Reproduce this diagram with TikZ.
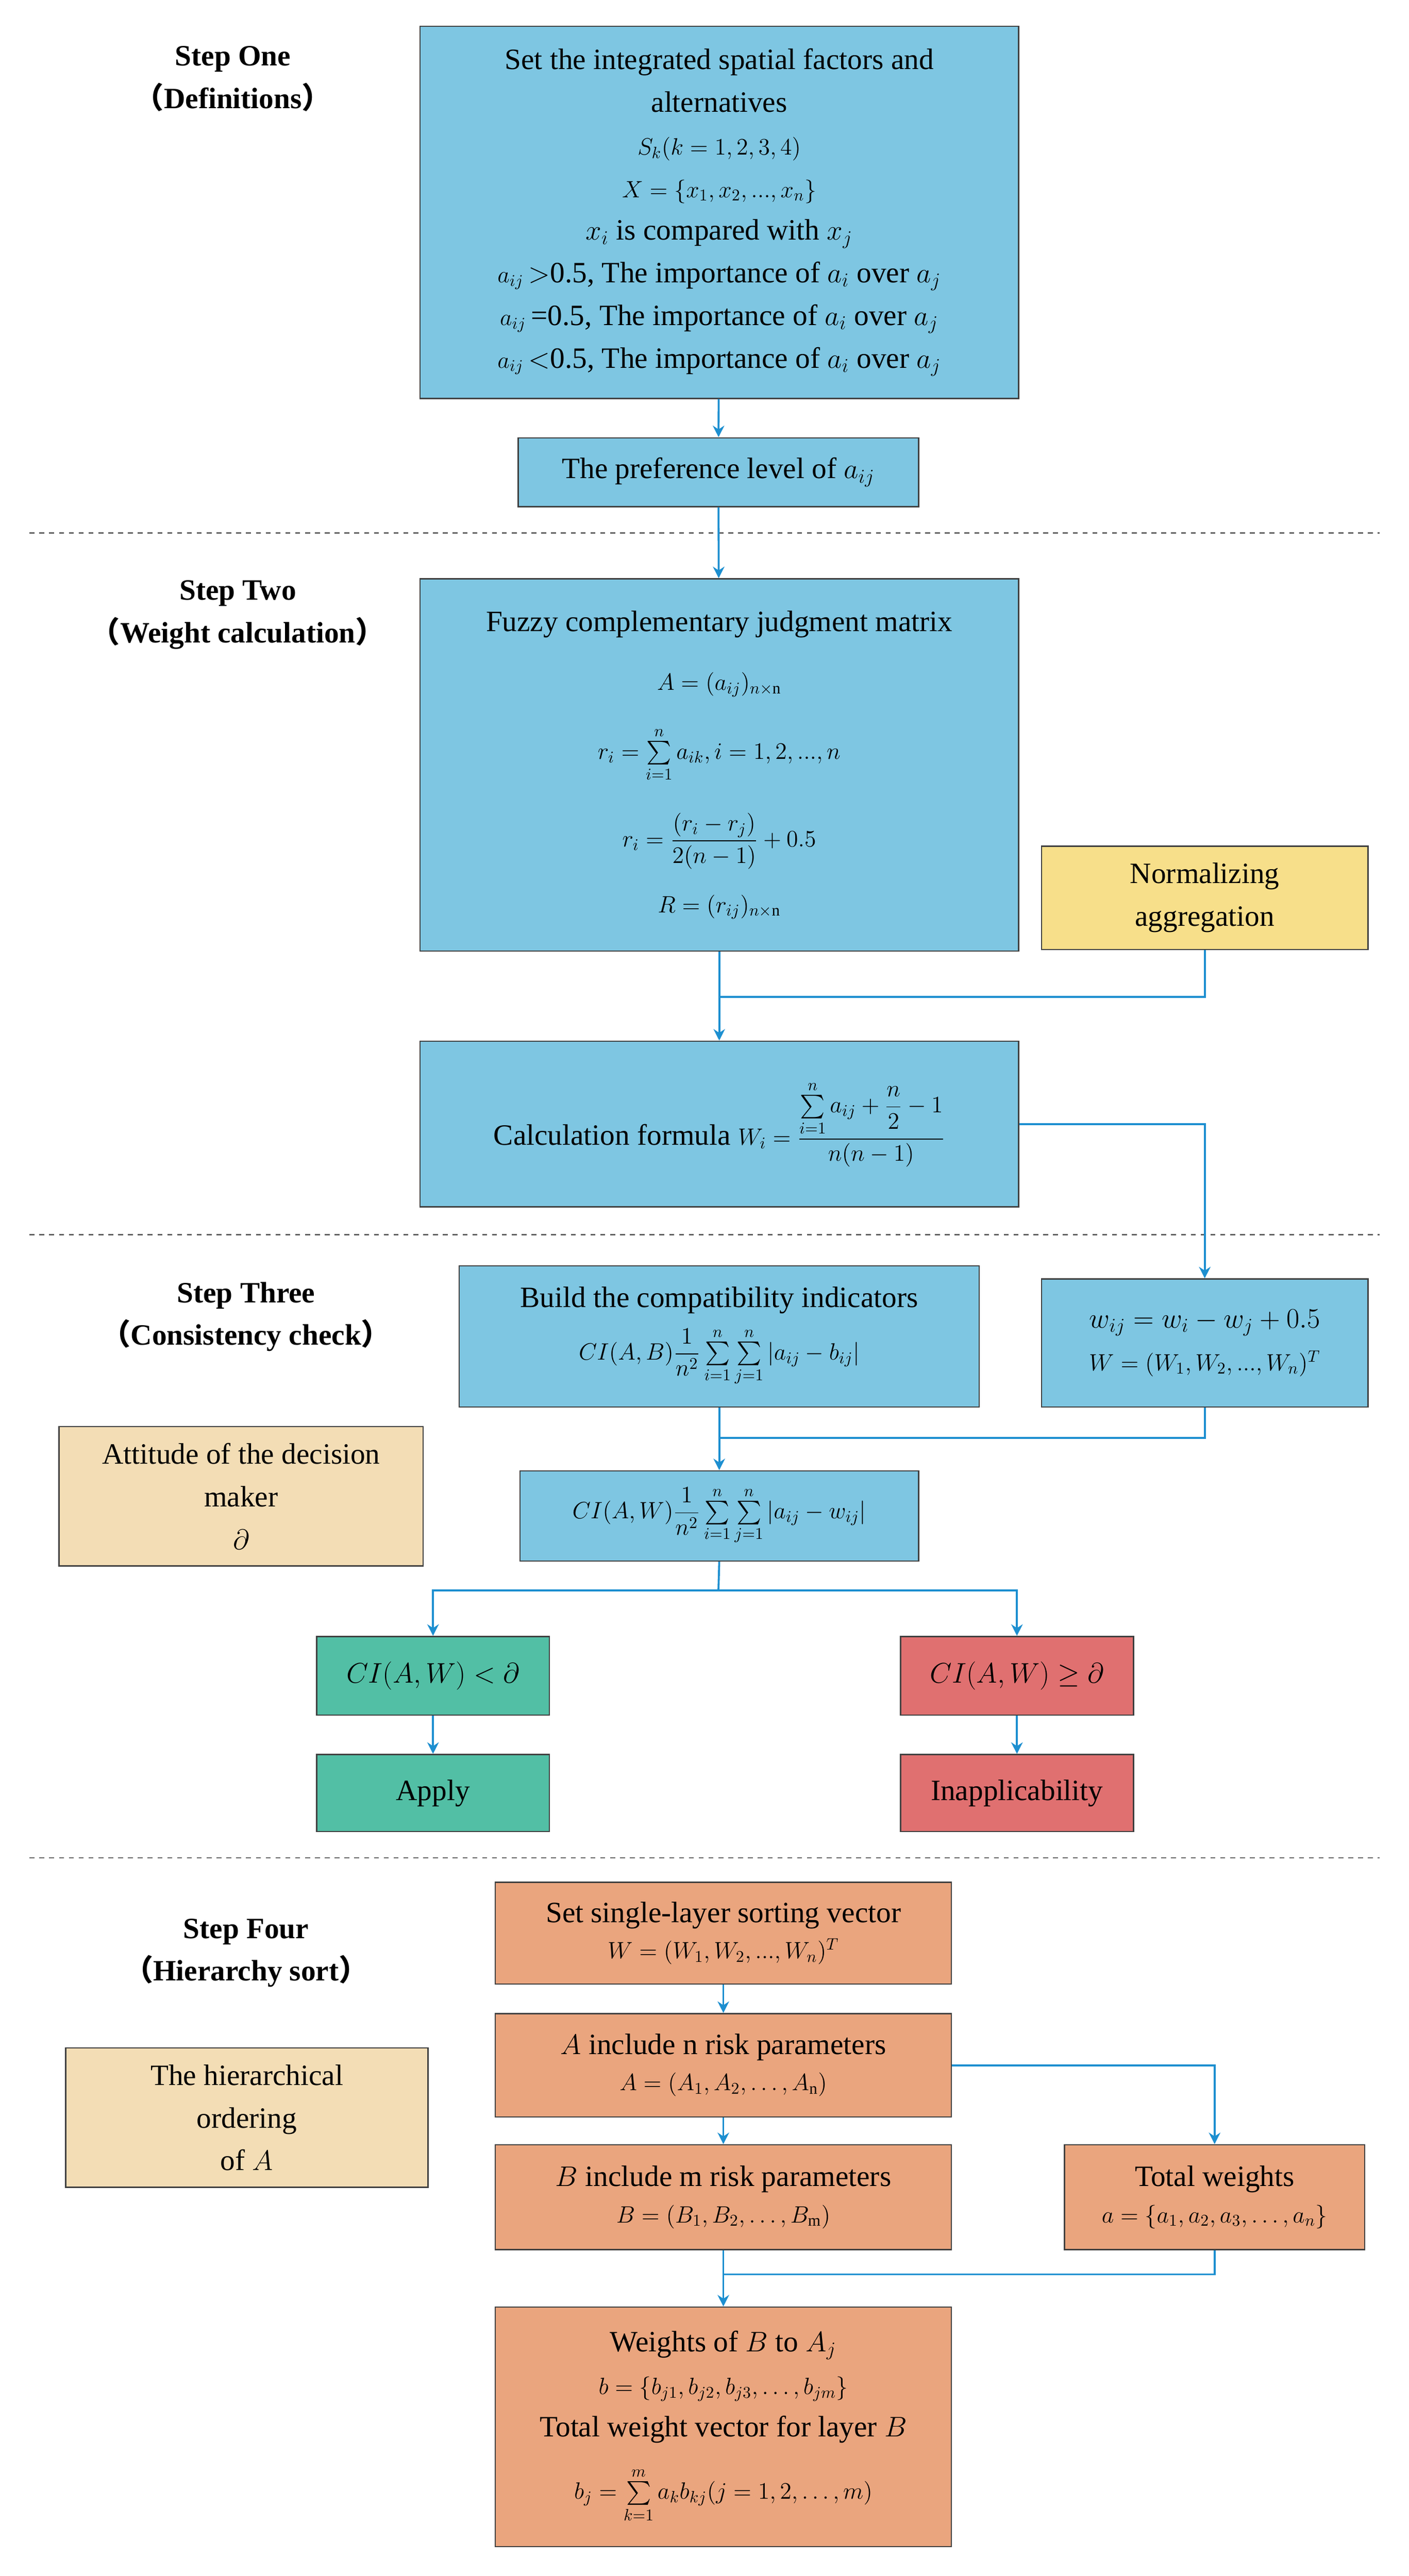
\documentclass[tikz,border=0pt]{standalone}
\usepackage{amsmath}
\usepackage{fontspec}
\usetikzlibrary{arrows.meta}
\setmainfont{Liberation Serif}
\newfontfamily\cjk{Noto Sans CJK SC}
\definecolor{bl}{HTML}{7EC6E2}
\definecolor{yl}{HTML}{F7DF8A}
\definecolor{bg}{HTML}{F3DDB5}
\definecolor{gr}{HTML}{52BFA5}
\definecolor{rd}{HTML}{E07070}
\definecolor{or}{HTML}{EAA57E}
\definecolor{ln}{HTML}{1D8FD0}
\newcommand{\mfs}{\fontsize{14}{24}\selectfont}
\begin{document}
\begin{tikzpicture}[x=1pt,y=-1pt,
  box/.style={draw=black!75,line width=0.8pt,align=center,inner sep=2pt,font=\fontsize{18}{26}\selectfont},
  lab/.style={align=center,font=\fontsize{18}{26}\selectfont\bfseries},
  con/.style={draw=ln,line width=1.2pt,-{Stealth[length=7pt,width=7pt]}},
  lin/.style={draw=ln,line width=1.2pt},
  sep/.style={draw=black!60,dashed,line width=0.9pt}]
\useasboundingbox (0,0) rectangle (859,1571);
% labels
\node[lab] (s1) at (142,48) {Step One\\{\cjk （}Definitions{\cjk ）}};
\node[lab] (s2) at (145,375) {Step Two\\{\cjk （}Weight calculation{\cjk ）}};
\node[lab] (s3) at (150,803) {Step Three\\{\cjk （}Consistency check{\cjk ）}};
\node[lab] (s4) at (150,1191) {Step Four\\{\cjk （}Hierarchy sort{\cjk ）}};
\coordinate (d1a) at (18,325); \coordinate (d1b) at (841,325);
\coordinate (d2a) at (18,753); \coordinate (d2b) at (841,753);
\coordinate (d3a) at (18,1133); \coordinate (d3b) at (841,1133);
\draw[sep] (d1a)--(d1b); \draw[sep] (d2a)--(d2b); \draw[sep] (d3a)--(d3b);
% boxes
\node[box,fill=bl,minimum width=365,minimum height=227] (b1) at (438.5,129.5) {Set the integrated spatial factors and\\alternatives\\
{\mfs $S_k(k=1,2,3,4)$}\\
{\mfs $X=\{x_1,x_2,...,x_n\}$}\\
$x_i$ is compared with $x_j$\\
{\mfs $a_{ij}$}\,$>$0.5, The importance of $a_i$ over $a_j$\\
{\mfs $a_{ij}$}\,=0.5, The importance of $a_i$ over $a_j$\\
{\mfs $a_{ij}$}\,$<$0.5, The importance of $a_i$ over $a_j$};
\node[box,fill=bl,minimum width=244,minimum height=42] (b2) at (438,288) {The preference level of $a_{ij}$};
\node[box,fill=bl,minimum width=365,minimum height=227] (b3) at (438.5,466.5) {Fuzzy complementary judgment matrix\\[10pt]
{\mfs $A=(a_{ij})_{n\times \mathrm{n}}$}\\[16pt]
{\mfs $r_i=\sum\limits_{i=1}^{n}a_{ik}, i=1,2,...,n$}\\[18pt]
{\mfs $r_i=\dfrac{(r_i-r_j)}{2(n-1)}+0.5$}\\[14pt]
{\mfs $R=(r_{ij})_{n\times \mathrm{n}}$}};
\node[box,fill=yl,minimum width=199,minimum height=63] (nz) at (734.5,547.5) {Normalizing\\aggregation};
\node[box,fill=bl,minimum width=365,minimum height=101] (b4) at (438.5,685.5) {Calculation formula {\mfs $W_i=\dfrac{\sum\limits_{i=1}^{n}a_{ij}+\dfrac{n}{2}-1}{n(n-1)}$}};
\node[box,fill=bl,minimum width=317,minimum height=86] (b5) at (438.5,815) {Build the compatibility indicators\\[6pt]
{\mfs $CI(A,B)\dfrac{1}{n^2}\sum\limits_{i=1}^{n}\sum\limits_{j=1}^{n}\left|a_{ij}-b_{ij}\right|$}};
\node[box,fill=bl,minimum width=199,minimum height=78] (b6) at (734.5,819) {$w_{ij}=w_i-w_j+0.5$\\{\mfs $W=(W_1,W_2,...,W_n)^T$}};
\node[box,fill=bg,minimum width=222,minimum height=85] (att) at (147,912.5) {Attitude of the decision\\maker\\$\partial$};
\node[box,fill=bl,minimum width=243,minimum height=55] (b7) at (438.5,924.5) {{\mfs $CI(A,W)\dfrac{1}{n^2}\sum\limits_{i=1}^{n}\sum\limits_{j=1}^{n}\left|a_{ij}-w_{ij}\right|$}};
\node[box,fill=gr,minimum width=142,minimum height=48] (g1) at (264,1022) {$CI(A,W)<\partial$};
\node[box,fill=gr,minimum width=142,minimum height=47] (g2) at (264,1093.5) {Apply};
\node[box,fill=rd,minimum width=142,minimum height=48] (r1) at (620,1022) {$CI(A,W)\geq\partial$};
\node[box,fill=rd,minimum width=142,minimum height=47] (r2) at (620,1093.5) {Inapplicability};
\node[box,fill=or,minimum width=278,minimum height=62] (b8) at (441,1179) {Set single-layer sorting vector\\[-4pt]{\mfs $W=(W_1,W_2,...,W_n)^T$}};
\node[box,fill=or,minimum width=278,minimum height=63] (b9) at (441,1259.5) {$A$ include n risk parameters\\[-4pt]{\mfs $A=(A_1,A_2,\dots,A_\mathrm{n})$}};
\node[box,fill=bg,minimum width=221,minimum height=85] (hier) at (150.5,1291.5) {The hierarchical\\ordering\\of $A$};
\node[box,fill=or,minimum width=278,minimum height=64] (b10) at (441,1340) {$B$ include m risk parameters\\[-4pt]{\mfs $B=(B_1,B_2,\dots,B_\mathrm{m})$}};
\node[box,fill=or,minimum width=183,minimum height=64] (tw) at (740.5,1340) {Total weights\\[-4pt]{\mfs $a=\{a_1,a_2,a_3,\dots,a_n\}$}};
\node[box,fill=or,minimum width=278,minimum height=146] (b11) at (441,1480) {Weights of $B$ to $A_j$\\
{\mfs $b=\{b_{j1},b_{j2},b_{j3},\dots,b_{jm}\}$}\\
Total weight vector for layer $B$\\[12pt]
{\mfs $b_j=\sum\limits_{k=1}^{m}a_kb_{kj}(j=1,2,\dots,m)$}};
% connectors
\draw[con] (b1) -- (b2);
\draw[con] (b2) -- (b3);
\draw[con] (b3) -- (b4);
\coordinate (j1) at (438,608);
\draw[lin] (nz.south) |- (j1);
\draw[con] (b4.east) -| (b6.north);
\draw[con] (b5) -- (b7);
\coordinate (j2) at (438,877);
\draw[lin] (b6.south) |- (j2);
\coordinate (j3) at (438,970);
\draw[lin] (b7.south) -- (j3);
\draw[con] (j3) -| (g1.north);
\draw[con] (j3) -| (r1.north);
\draw[con] (g1) -- (g2);
\draw[con] (r1) -- (r2);
\draw[con] (b8) -- (b9);
\draw[con] (b9) -- (b10);
\draw[con] (b9.east) -| (tw.north);
\draw[con] (b10) -- (b11);
\coordinate (j4) at (441,1387);
\draw[lin] (tw.south) |- (j4);
\end{tikzpicture}
\end{document}
